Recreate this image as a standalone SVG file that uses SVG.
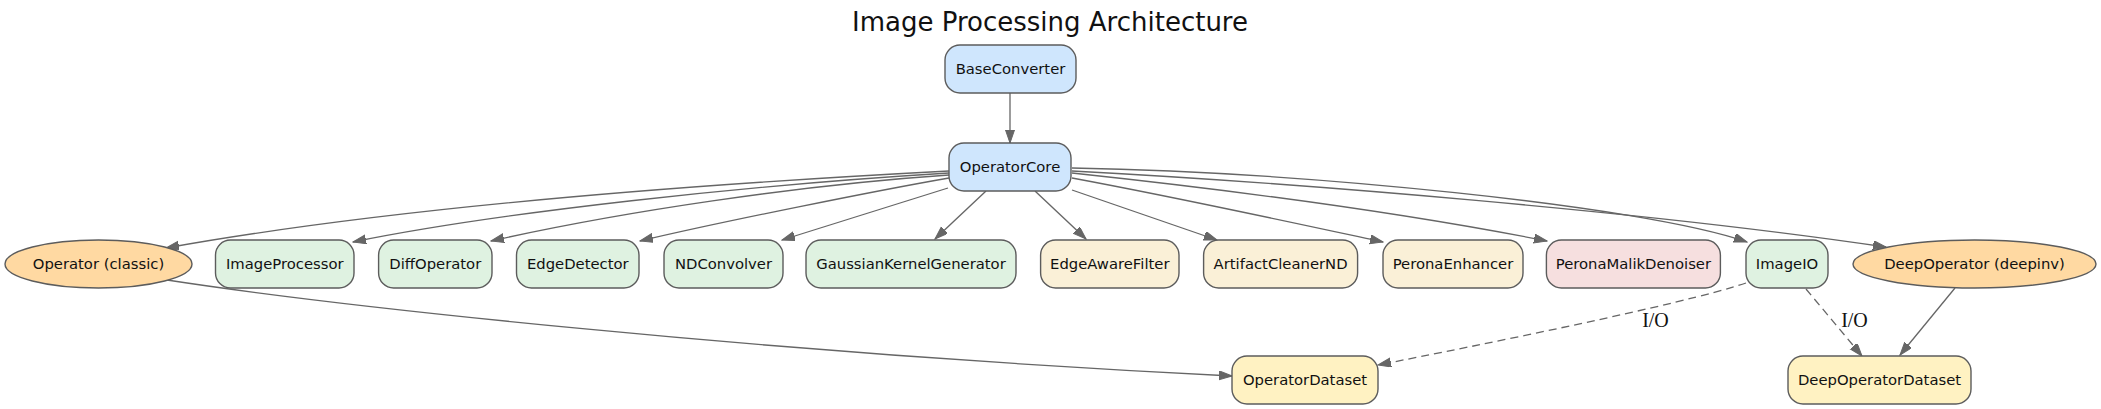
<svg xmlns="http://www.w3.org/2000/svg" width="2101" height="409" viewBox="0 0 2101 409">
<style>
.n rect, .n ellipse { stroke:#5c5c5c; stroke-width:1.4; }
.blue { fill:#cfe6fd; }
.green { fill:#dff2e1; }
.beige { fill:#faf0d7; }
.pink { fill:#f6dfdf; }
.orange { fill:#ffd9a2; }
.yellow { fill:#fff2c2; }
.lbl { font-family:"DejaVu Sans", sans-serif; font-size:14.8px; fill:#111; text-anchor:middle; }
.e path { fill:none; stroke:#666; stroke-width:1.3; }
.e .d { stroke-dasharray:8,5; }
.el { font-family:"Liberation Serif", serif; font-size:20px; fill:#111; text-anchor:middle; }
</style>
<defs>
<marker id="ah" markerUnits="userSpaceOnUse" markerWidth="14" markerHeight="10" refX="13" refY="4.5" orient="auto">
<path d="M0,0 L13,4.5 L0,9 z" fill="#666" stroke="#666" stroke-width="1"/>
</marker>
</defs>
<rect width="2101" height="409" fill="#ffffff"/>
<text x="1050" y="31" font-family="DejaVu Sans, sans-serif" font-size="26" text-anchor="middle" fill="#111">Image Processing Architecture</text>
<g class="e" id="edges">
<path d="M1010,93 L1010,143" marker-end="url(#ah)"/>
<path d="M949,171 C700,184 400,206 166,248" marker-end="url(#ah)"/>
<path d="M949,173 C750,185 500,212 353,242" marker-end="url(#ah)"/>
<path d="M949,175 C800,185 620,212 491,241" marker-end="url(#ah)"/>
<path d="M949,178 C880,190 720,222 640,241" marker-end="url(#ah)"/>
<path d="M948,188 L782,240" marker-end="url(#ah)"/>
<path d="M986,191 L935,239" marker-end="url(#ah)"/>
<path d="M1035,191 L1086,239" marker-end="url(#ah)"/>
<path d="M1072,190 L1217,240" marker-end="url(#ah)"/>
<path d="M1072,178 C1180,198 1290,222 1383,242" marker-end="url(#ah)"/>
<path d="M1072,173 C1250,192 1420,216 1547,241" marker-end="url(#ah)"/>
<path d="M1072,168 C1300,172 1640,205 1747,242" marker-end="url(#ah)"/>
<path d="M1072,171 C1300,183 1650,212 1886,247" marker-end="url(#ah)"/>
<path d="M167,280 C330,305 750,352 1232,376" marker-end="url(#ah)"/>
<path class="d" d="M1746,283 C1680,305 1480,345 1378,365" marker-end="url(#ah)"/>
<path class="d" d="M1806,289 L1862,356" marker-end="url(#ah)"/>
<path d="M1955,288 L1900,355" marker-end="url(#ah)"/>
<text class="el" x="1655.5" y="327">I/O</text>
<text class="el" x="1854.5" y="327">I/O</text>
</g>
<g class="n" id="BaseConverter"><rect class="blue" x="945" y="45" width="131" height="48" rx="15"/><text class="lbl" x="1010.5" y="74">BaseConverter</text></g>
<g class="n" id="OperatorCore"><rect class="blue" x="949" y="143" width="122" height="48" rx="15"/><text class="lbl" x="1010" y="172">OperatorCore</text></g>
<g class="n" id="OperatorClassic"><ellipse class="orange" cx="98.5" cy="264" rx="93.5" ry="24"/><text class="lbl" x="98.5" y="269">Operator (classic)</text></g>
<g class="n" id="ImageProcessor"><rect class="green" x="215.5" y="240" width="138.5" height="48" rx="15"/><text class="lbl" x="284.8" y="269">ImageProcessor</text></g>
<g class="n" id="DiffOperator"><rect class="green" x="378.6" y="240" width="113.4" height="48" rx="15"/><text class="lbl" x="435.3" y="269">DiffOperator</text></g>
<g class="n" id="EdgeDetector"><rect class="green" x="516.5" y="240" width="122.5" height="48" rx="15"/><text class="lbl" x="577.8" y="269">EdgeDetector</text></g>
<g class="n" id="NDConvolver"><rect class="green" x="664" y="240" width="119" height="48" rx="15"/><text class="lbl" x="723.5" y="269">NDConvolver</text></g>
<g class="n" id="GaussianKernelGenerator"><rect class="green" x="806" y="240" width="210" height="48" rx="15"/><text class="lbl" x="911" y="269">GaussianKernelGenerator</text></g>
<g class="n" id="EdgeAwareFilter"><rect class="beige" x="1040.6" y="240" width="138.4" height="48" rx="15"/><text class="lbl" x="1109.8" y="269">EdgeAwareFilter</text></g>
<g class="n" id="ArtifactCleanerND"><rect class="beige" x="1203.6" y="240" width="154" height="48" rx="15"/><text class="lbl" x="1280.6" y="269">ArtifactCleanerND</text></g>
<g class="n" id="PeronaEnhancer"><rect class="beige" x="1383" y="240" width="140" height="48" rx="15"/><text class="lbl" x="1453" y="269">PeronaEnhancer</text></g>
<g class="n" id="PeronaMalikDenoiser"><rect class="pink" x="1546.4" y="240" width="174" height="48" rx="15"/><text class="lbl" x="1633.4" y="269">PeronaMalikDenoiser</text></g>
<g class="n" id="ImageIO"><rect class="green" x="1746" y="240" width="82" height="48" rx="15"/><text class="lbl" x="1787" y="269">ImageIO</text></g>
<g class="n" id="DeepOperator"><ellipse class="orange" cx="1974.5" cy="264" rx="121.5" ry="24"/><text class="lbl" x="1974.5" y="269">DeepOperator (deepinv)</text></g>
<g class="n" id="OperatorDataset"><rect class="yellow" x="1232" y="356" width="146" height="48" rx="15"/><text class="lbl" x="1305" y="385">OperatorDataset</text></g>
<g class="n" id="DeepOperatorDataset"><rect class="yellow" x="1788" y="356" width="183" height="48" rx="15"/><text class="lbl" x="1879.5" y="385">DeepOperatorDataset</text></g>
</svg>
